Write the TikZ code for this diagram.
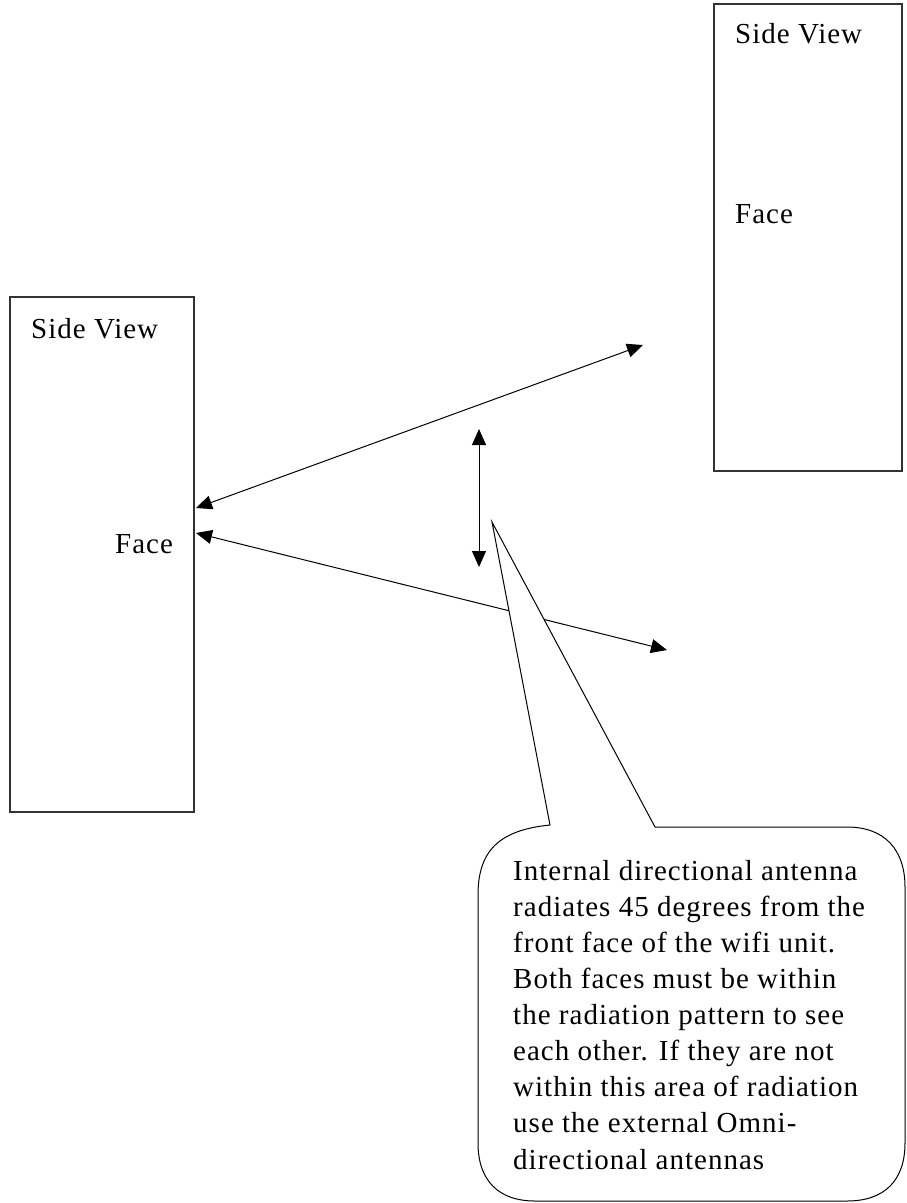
\documentclass[tikz,border=0pt]{standalone}
\usepackage{fontspec}
\setmainfont[LetterSpace=3.5]{Liberation Serif}
\usetikzlibrary{arrows.meta}
\begin{document}
\begin{tikzpicture}[x=1pt,y=-1pt,
  box/.style={draw=black!80,line width=1.3pt},
  lbl/.style={anchor=base west,inner sep=0pt,font=\fontsize{29}{36.1}\selectfont},
  link/.style={line width=1pt,{Triangle[length=16pt,width=14pt]}-{Triangle[length=16pt,width=14pt]}},
  callout/.style={draw=black,line width=1pt,fill=white}]
\useasboundingbox[fill=white] (0,0) rectangle (907,1203);
% boxes
\draw[box] (10,297) rectangle (194,812);
\draw[box] (714,4) rectangle (902,471);
\node[lbl] (sv1) at (31,338) {Side View};
\node[lbl] (f1) at (115,553) {Face};
\node[lbl] (sv2) at (735,43) {Side View};
\node[lbl] (f2) at (735,223) {Face};
% arrow end points
\coordinate (a1) at (196,508);
\coordinate (a2) at (643,345);
\coordinate (b1) at (196,533);
\coordinate (b2) at (667,650);
\coordinate (v1) at (479,429);
\coordinate (v2) at (479,567);
\draw[link] (a1) -- (a2);
\draw[link] (b1) -- (b2);
\draw[link] (v1) -- (v2);
% callout
\coordinate (tip) at (492,522);
\draw[callout] (550,825) -- (tip) -- (655,827) -- (847,827)
  .. controls (885,827) and (905,850) .. (905,887)
  -- (905,1143)
  .. controls (905,1180) and (885,1201) .. (847,1201)
  -- (535,1201)
  .. controls (498,1201) and (478,1180) .. (478,1143)
  -- (478,895)
  .. controls (478,850) and (500,830) .. cycle;
\node[lbl,align=left] (txt) at (513,1169) {Internal directional antenna\\
radiates 45 degrees from the\\
front face of the wifi unit.\\
Both faces must be within\\
the radiation pattern to see\\
each other. If they are not\\
within this area of radiation\\
use the external Omni-\\
directional antennas};
\end{tikzpicture}
\end{document}
